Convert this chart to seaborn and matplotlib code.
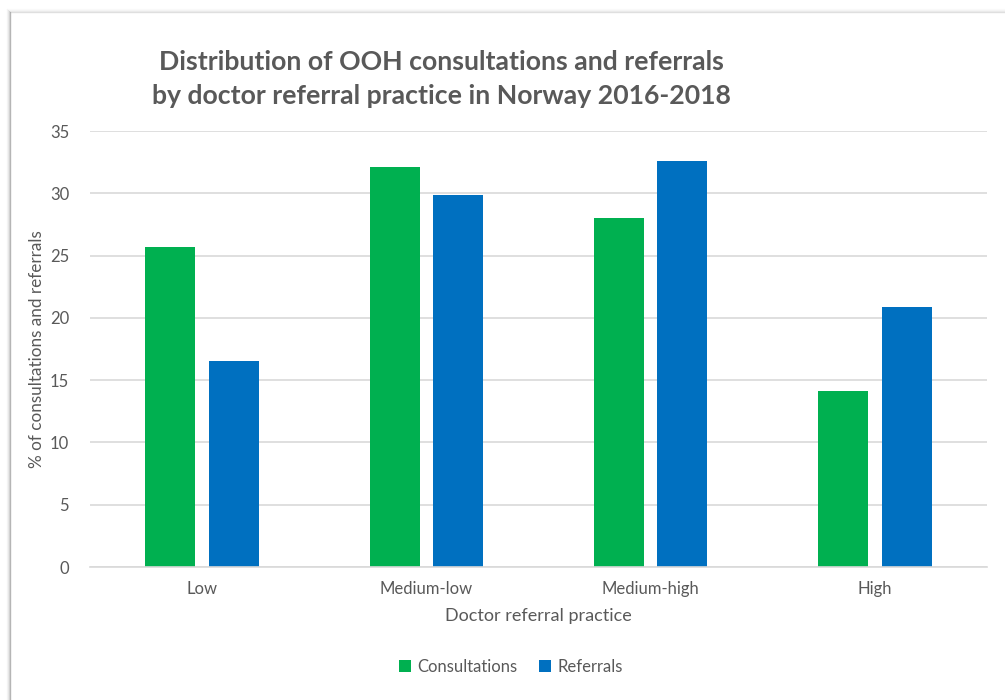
import matplotlib
matplotlib.use("Agg")
import matplotlib.pyplot as plt
from matplotlib.lines import Line2D
from matplotlib.patches import Patch
import seaborn as sns
import pandas as pd

categories = ["Low", "Medium-low", "Medium-high", "High"]
series = ["Consultations", "Referrals"]
consultations = [25.7, 32.1, 28.0, 14.1]
referrals = [16.5, 29.9, 32.6, 20.9]
colors = ["#00B050", "#0070C0"]

df = pd.DataFrame({
    "practice": categories * 2,
    "series": [series[0]] * 4 + [series[1]] * 4,
    "value": consultations + referrals,
})

sns.set_theme(style="white")
plt.rcParams["font.family"] = ["Lato", "DejaVu Sans"]
text_color = "#595959"
grid_color = "#D9D9D9"

W, H = 1005, 700
fig = plt.figure(figsize=(W / 100, H / 100), dpi=100)
ax = fig.add_axes([90 / W, 1 - 567 / H, (987 - 90) / W, (567 - 131) / H])

sns.barplot(data=df, x="practice", y="value", hue="series", order=categories,
            hue_order=series, palette=colors, width=0.565, gap=0.21,
            saturation=1, ax=ax, legend=False, edgecolor="none")

ax.set_ylim(0, 35)
ax.set_yticks(range(0, 36, 5))
ax.yaxis.grid(True, color=grid_color, linewidth=1.2)
ax.set_axisbelow(True)
for s in ["top", "right", "left"]:
    ax.spines[s].set_visible(False)
ax.spines["bottom"].set_color(grid_color)
ax.spines["bottom"].set_linewidth(1.2)
ax.tick_params(axis="both", length=0, colors=text_color, labelsize=12)
ax.tick_params(axis="y", pad=15)
ax.tick_params(axis="x", pad=10)

ax.set_xlabel("Doctor referral practice", color=text_color, fontsize=13, labelpad=8)
ax.set_ylabel("% of consultations and referrals", color=text_color, fontsize=12.3)
ax.yaxis.set_label_coords((45 - 90) / 897, 0.5)

fig.text(441 / W, 1 - 79 / H,
         "Distribution of OOH consultations and referrals\nby doctor referral practice in Norway 2016-2018",
         ha="center", va="center", fontsize=19.2, fontweight="bold",
         color=text_color, linespacing=1.55)

handles = [Patch(facecolor=c, edgecolor="none") for c in colors]
fig.legend(handles, series, loc="center", bbox_to_anchor=(511 / W, 1 - 667 / H),
           ncol=2, frameon=False, fontsize=12, handlelength=0.7, handleheight=0.7,
           handletextpad=0.4, columnspacing=1.3, labelcolor=text_color)

# chart frame with a soft shadow along the left and top edges
for i, a in enumerate([0.55, 0.25, 0.12, 0.06]):
    fig.add_artist(Line2D([(10 - i) / W, (10 - i) / W], [0, 1 - (12 - i) / H],
                          transform=fig.transFigure, color="#7F7F7F", alpha=a, lw=1))
    fig.add_artist(Line2D([(10 - i) / W, 1], [1 - (12 - i) / H, 1 - (12 - i) / H],
                          transform=fig.transFigure, color="#A6A6A6", alpha=a * 0.6, lw=1))

fig.savefig("out.png", dpi=100, facecolor="white")
